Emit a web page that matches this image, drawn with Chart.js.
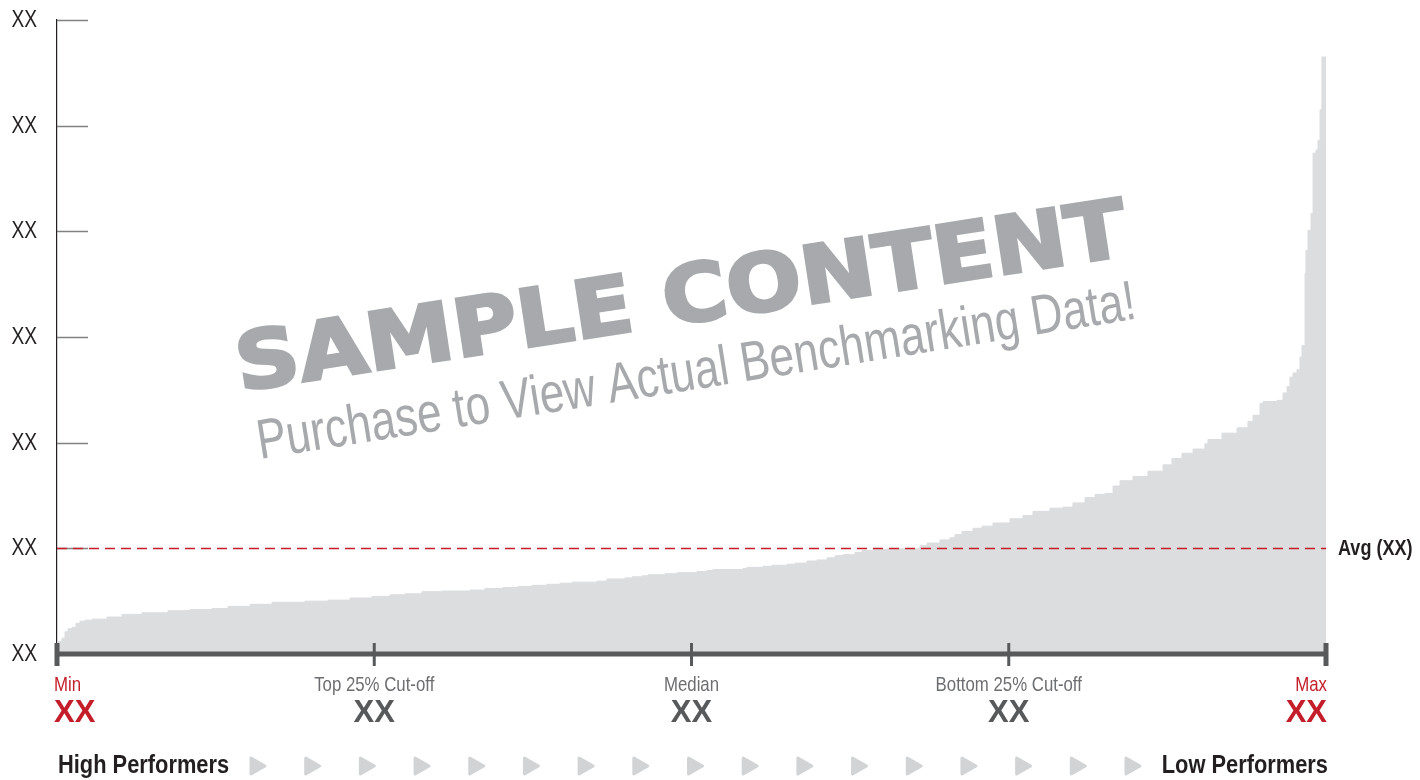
<!DOCTYPE html>
<html>
<head>
<meta charset="utf-8">
<title>Benchmark distribution</title>
<script src="https://cdn.jsdelivr.net/npm/chart.js@4.4.0/dist/chart.umd.min.js"></script>
<style>
  html, body { margin: 0; padding: 0; background: #fff; }
  #wrap { width: 1420px; height: 780px; }
</style>
</head>
<body>
<div id="wrap"><canvas id="benchChart" width="1420" height="780"></canvas></div>
<script>
// --- Data ---
// percentile rank of each participant step, 0 = best, 100 = worst
const rankPct = [
  0, 0.08, 0.39, 0.63, 0.87, 1.18, 1.5, 1.81, 2.21, 2.76, 3.94, 5.12, 6.7, 8.75,
  10.48, 12.21, 13.48, 15.21, 16.94, 19.54, 21.36, 23.09, 24.82, 26.24, 27.42,
  28.76, 30.34, 32.55, 33.73, 35.15, 36.33, 37.43, 38.61, 39.64, 40.58, 42.55,
  43.34, 44.76, 45.31, 46.1, 46.57, 47.91, 48.86, 50.43, 51.22, 51.69, 54.06,
  54.37, 55.63, 56.34, 57.53, 58.16, 59.1, 59.89, 60.68, 61.31, 61.94, 62.88,
  63.44, 64.3, 65.41, 68.01, 68.56, 69.58, 70.37, 70.76, 71.32, 72.18, 72.89,
  73.76, 75.1, 76.12, 76.91, 78.25, 79.28, 80.06, 81.01, 81.8, 82.58, 83.22,
  83.77, 84.79, 85.97, 87.16, 87.86, 88.65, 89.52, 90.46, 90.7, 91.8, 92.99,
  93.85, 94.25, 94.8, 95.04, 96.14, 96.61, 96.93, 97.16, 97.4, 97.71, 97.95,
  98.11, 98.35, 98.42, 98.58, 98.82, 98.98, 99.21, 99.37, 99.53, 99.68, 99.84, 100
];
const metricValues = [
  0.08, 0.1, 0.12, 0.15, 0.21, 0.24, 0.25, 0.29, 0.31, 0.32, 0.33, 0.35, 0.375, 0.39,
  0.41, 0.42, 0.43, 0.45, 0.47, 0.49, 0.5, 0.51, 0.53, 0.545, 0.56,
  0.57, 0.59, 0.596, 0.605, 0.62, 0.63, 0.64, 0.65, 0.66, 0.67, 0.68,
  0.69, 0.71, 0.72, 0.73, 0.74, 0.75, 0.76, 0.77, 0.78, 0.79, 0.8,
  0.81, 0.82, 0.83, 0.84, 0.85, 0.86, 0.88, 0.89, 0.91, 0.93, 0.94,
  0.96, 0.98, 0.99, 0.995, 1.025, 1.05, 1.08, 1.1, 1.13, 1.16, 1.19,
  1.21, 1.24, 1.28, 1.31, 1.35, 1.38, 1.39, 1.43, 1.48, 1.51, 1.52,
  1.59, 1.64, 1.68, 1.73, 1.79, 1.85, 1.9, 1.94, 1.99, 2.03, 2.09,
  2.14, 2.2, 2.26, 2.37, 2.39, 2.4, 2.47, 2.53, 2.62, 2.66, 2.69,
  2.81, 2.92, 3.6, 3.82, 4.01, 4.17, 4.74, 4.77, 4.86, 5.15, 5.65, 5.65
];
const yTickLabels = ['XX', 'XX', 'XX', 'XX', 'XX', 'XX', 'XX'];
const avgValue = 1;
const avgLabel = 'Avg (XX)';
const markerPct = [0, 25, 50, 75, 100];
const markerNames = ['Min', 'Top 25% Cut-off', 'Median', 'Bottom 25% Cut-off', 'Max'];
const markerValues = ['XX', 'XX', 'XX', 'XX', 'XX'];
const performerLabels = ['High Performers', 'Low Performers'];
const arrowCount = 17;
const watermarkTitle = 'SAMPLE CONTENT';
const watermarkSub = 'Purchase to View Actual Benchmarking Data!';

const RED = '#c41e2a';
const DARK = '#58595b';
const SANS = '"Liberation Sans", Arial, sans-serif';

// draws text squeezed horizontally (no condensed face is installed)
function narrowText(ctx, text, x, y, align, sx) {
    const w = ctx.measureText(text).width * sx;
    let left = x;
    if (align === 'center') left = x - w / 2;
    else if (align === 'right') left = x - w;
    ctx.save();
    ctx.translate(left, y);
    ctx.scale(sx, 1);
    ctx.textAlign = 'left';
    ctx.fillText(text, 0, 0);
    ctx.restore();
    return w;
}

// --- Custom drawing on top of the chart ---
const benchOverlay = {
    id: 'benchOverlay',
    afterDatasetsDraw(chart) {
        const { ctx, chartArea: a, scales: { x, y } } = chart;
        ctx.save();
        ctx.textBaseline = 'middle';

        // y labels and short tick marks pointing into the plot
        y.ticks.forEach((t, i) => {
            const py = Math.round(y.getPixelForValue(t.value)) + 0.5;
            ctx.fillStyle = '#231f20';
            ctx.font = '24px ' + SANS;
            narrowText(ctx, yTickLabels[i], 37, py, 'right', 0.8);
            if (t.value === 0) return;
            ctx.strokeStyle = '#808080';
            ctx.lineWidth = 1.5;
            ctx.beginPath();
            ctx.moveTo(a.left, py);
            ctx.lineTo(a.left + 31, py);
            ctx.stroke();
        });

        // average line
        const ay = Math.round(y.getPixelForValue(avgValue)) + 0.5;
        ctx.strokeStyle = RED;
        ctx.lineWidth = 1.3;
        ctx.setLineDash([10, 6]);
        ctx.beginPath();
        ctx.moveTo(a.left, ay);
        ctx.lineTo(a.right, ay);
        ctx.stroke();
        ctx.setLineDash([]);

        ctx.fillStyle = '#231f20';
        ctx.font = 'bold 22px ' + SANS;
        narrowText(ctx, avgLabel, a.right + 12, ay, 'left', 0.82);

        // bottom axis with quartile markers
        ctx.fillStyle = DARK;
        ctx.fillRect(a.left, a.bottom - 2.5, a.right - a.left, 5);
        markerPct.forEach((p, i) => {
            const px = x.getPixelForValue(p);
            const last = i === markerPct.length - 1;
            const end = i === 0 || last;
            ctx.fillStyle = DARK;
            if (end) ctx.fillRect(px - 2.5, a.bottom - 11, 5, 23);
            else ctx.fillRect(px - 1.5, a.bottom - 11, 3, 23);

            const align = i === 0 ? 'left' : (last ? 'right' : 'center');
            const tx = i === 0 ? px - 3 : (last ? px + 1 : px);
            ctx.fillStyle = end ? RED : '#6d6e71';
            ctx.font = '21px ' + SANS;
            narrowText(ctx, markerNames[i], tx, a.bottom + 31, align, 0.8);
            ctx.fillStyle = end ? RED : DARK;
            ctx.font = 'bold 31px ' + SANS;
            narrowText(ctx, markerValues[i], tx, a.bottom + 59, align, 1);
        });

        // performer labels and arrows
        const rowY = a.bottom + 112;
        ctx.fillStyle = '#231f20';
        ctx.font = 'bold 26px ' + SANS;
        narrowText(ctx, performerLabels[0], a.left + 1, rowY, 'left', 0.84);
        narrowText(ctx, performerLabels[1], a.right + 2, rowY, 'right', 0.84);

        const first = 258, lastX = 1133;
        ctx.fillStyle = '#d1d3d4';
        ctx.strokeStyle = '#d1d3d4';
        ctx.lineJoin = 'round';
        ctx.lineWidth = 3;
        for (let k = 0; k < arrowCount; k++) {
            const cx = first + (lastX - first) * k / (arrowCount - 1);
            ctx.beginPath();
            ctx.moveTo(cx - 7, rowY - 8);
            ctx.lineTo(cx + 7, rowY);
            ctx.lineTo(cx - 7, rowY + 8);
            ctx.closePath();
            ctx.fill();
            ctx.stroke();
        }
        ctx.restore();
    },
    afterDraw(chart) {
        const ctx = chart.ctx;
        ctx.save();
        ctx.fillStyle = '#a7a9ac';
        ctx.strokeStyle = '#a7a9ac';
        ctx.textBaseline = 'alphabetic';
        ctx.textAlign = 'left';

        // heavy title
        ctx.save();
        ctx.translate(240, 391);
        ctx.rotate(-8.7 * Math.PI / 180);
        ctx.font = 'bold 80px "DejaVu Sans", sans-serif';
        let w = ctx.measureText(watermarkTitle).width;
        ctx.scale(900 / w, 1);
        ctx.lineWidth = 3;
        ctx.lineJoin = 'miter';
        ctx.fillText(watermarkTitle, 0, 0);
        ctx.strokeText(watermarkTitle, 0, 0);
        ctx.restore();

        // light subtitle
        ctx.save();
        ctx.translate(260, 459);
        ctx.rotate(-9.1 * Math.PI / 180);
        ctx.font = '56px ' + SANS;
        w = ctx.measureText(watermarkSub).width;
        ctx.scale(889 / w, 1);
        ctx.fillText(watermarkSub, 0, 0);
        ctx.restore();

        ctx.restore();
    }
};

new Chart(document.getElementById('benchChart'), {
    type: 'line',
    data: {
        datasets: [{
            data: rankPct.map((p, i) => ({ x: p, y: metricValues[i] })),
            stepped: 'after',
            fill: 'origin',
            backgroundColor: '#dcdddf',
            borderColor: '#dcdddf',
            borderWidth: 1,
            pointRadius: 0
        }]
    },
    options: {
        responsive: false,
        animation: false,
        layout: { padding: { top: 20, right: 94, bottom: 126, left: 0 } },
        plugins: { legend: { display: false }, tooltip: { enabled: false } },
        scales: {
            x: { type: 'linear', min: 0, max: 100, display: false },
            y: {
                min: 0,
                max: 6,
                afterFit: s => { s.width = 57; },
                grid: { display: false, drawTicks: false },
                border: { display: true, color: '#231f20', width: 1.2 },
                ticks: { stepSize: 1, display: false }
            }
        }
    },
    plugins: [benchOverlay]
});
</script>
</body>
</html>
